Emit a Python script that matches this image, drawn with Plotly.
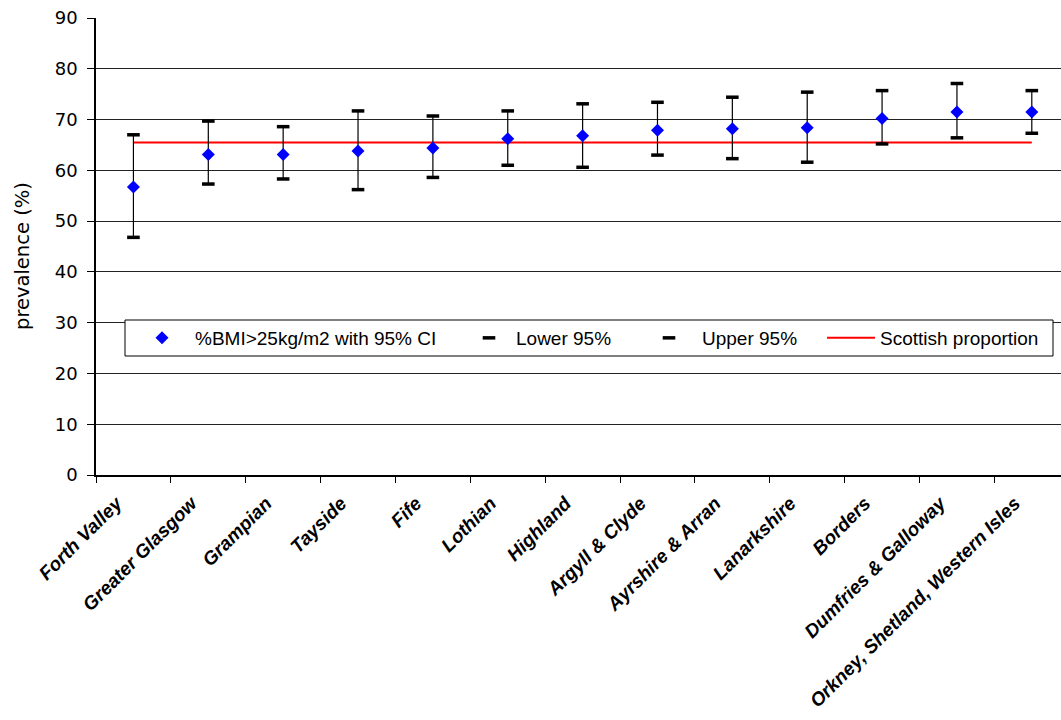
import plotly.graph_objects as go

categories = ["Forth Valley", "Greater Glasgow", "Grampian", "Tayside", "Fife",
              "Lothian", "Highland", "Argyll & Clyde", "Ayrshire & Arran",
              "Lanarkshire", "Borders", "Dumfries & Galloway",
              "Orkney, Shetland, Western Isles"]
bmi_pct = [56.7, 63.1, 63.1, 63.8, 64.4, 66.2, 66.8, 67.9, 68.2, 68.4, 70.2, 71.5, 71.5]
lower_95 = [46.8, 57.3, 58.3, 56.2, 58.6, 61.0, 60.6, 63.0, 62.3, 61.6, 65.2, 66.4, 67.3]
upper_95 = [67.0, 69.7, 68.6, 71.7, 70.7, 71.7, 73.1, 73.4, 74.4, 75.4, 75.7, 77.1, 75.7]
scottish_proportion = [65.5, 65.5, 65.5, 65.5, 65.5, 65.5, 65.5, 65.5, 65.5, 65.5, 65.5, 65.5, 65.5]
y_ticks = [0, 10, 20, 30, 40, 50, 60, 70, 80, 90]

err_plus = [u - v for u, v in zip(upper_95, bmi_pct)]
err_minus = [v - l for v, l in zip(bmi_pct, lower_95)]

W, H = 1061, 720
ML, MR, MT, MB = 96, 0, 18, 245
PW = W - ML - MR
PH = H - MT - MB


def px_x(px):
    return (px - ML) / PW


def px_y(py):
    return (H - MB - py) / PH


legend_font = dict(family="Liberation Sans, Arial, sans-serif", size=19, color="black")

fig = go.Figure()

fig.add_trace(go.Scatter(
    x=categories, y=scottish_proportion, mode="lines", name="Scottish proportion",
    line=dict(color="#FF0000", width=2), legend="legend4"))

fig.add_trace(go.Scatter(
    x=categories, y=bmi_pct, mode="markers", name="%BMI>25kg/m2 with 95% CI",
    marker=dict(symbol="diamond", size=10, color="#0000FF"),
    error_y=dict(type="data", array=err_plus, arrayminus=err_minus,
                 color="black", thickness=1.2, width=0),
    legend="legend"))

fig.add_trace(go.Scatter(
    x=categories, y=lower_95, mode="markers", name="Lower 95%",
    marker=dict(symbol="line-ew", size=9, color="black",
                line=dict(color="black", width=3.5)),
    legend="legend2"))

fig.add_trace(go.Scatter(
    x=categories, y=upper_95, mode="markers", name="Upper 95%",
    marker=dict(symbol="line-ew", size=9, color="black",
                line=dict(color="black", width=3.5)),
    legend="legend3"))

legend_common = dict(font=legend_font, bgcolor="rgba(0,0,0,0)", borderwidth=0,
                     yanchor="middle", y=px_y(338), xanchor="left",
                     orientation="h")

fig.update_layout(
    width=W, height=H,
    margin=dict(l=ML, r=MR, t=MT, b=MB),
    paper_bgcolor="white", plot_bgcolor="white",
    showlegend=True,
    legend=dict(x=px_x(129), itemwidth=56, **legend_common),
    legend2=dict(x=px_x(462), itemwidth=44, **legend_common),
    legend3=dict(x=px_x(636), itemwidth=56, **legend_common),
    legend4=dict(x=px_x(822), itemwidth=48, **legend_common),
    shapes=[dict(type="rect", xref="paper", yref="paper",
                 x0=px_x(125), x1=px_x(1053), y0=px_y(356), y1=px_y(320),
                 fillcolor="white", line=dict(color="black", width=1),
                 layer="above")],
    annotations=[dict(text="prevalence (%)", xref="paper", yref="paper",
                      x=px_x(22), y=px_y(256), xanchor="center", yanchor="middle",
                      textangle=-90, showarrow=False,
                      font=dict(family="DejaVu Sans, sans-serif", size=19.5, color="black"))],
)

fig.update_xaxes(
    type="category", categoryorder="array", categoryarray=categories,
    range=[-0.5, 12.39], automargin=False,
    showline=True, linecolor="black", linewidth=1.5,
    showgrid=False, zeroline=False,
    ticks="outside", tickson="boundaries", ticklen=6, tickcolor="black", tickwidth=1,
    tickangle=-45, ticklabelshift=-17, ticklabelstandoff=8,
    tickfont=dict(family="Liberation Sans, Arial, sans-serif", size=19,
                  color="black", weight="bold", style="italic"),
)

fig.update_yaxes(
    range=[0, 90], tickvals=y_ticks, automargin=False,
    showline=True, linecolor="black", linewidth=1.5,
    showgrid=True, gridcolor="#222222", gridwidth=1,
    zeroline=False,
    ticks="outside", ticklen=7, tickcolor="black", tickwidth=1,
    ticklabelstandoff=6,
    tickfont=dict(family="DejaVu Sans, sans-serif", size=18, color="black"),
)

fig.write_html("out.html")
